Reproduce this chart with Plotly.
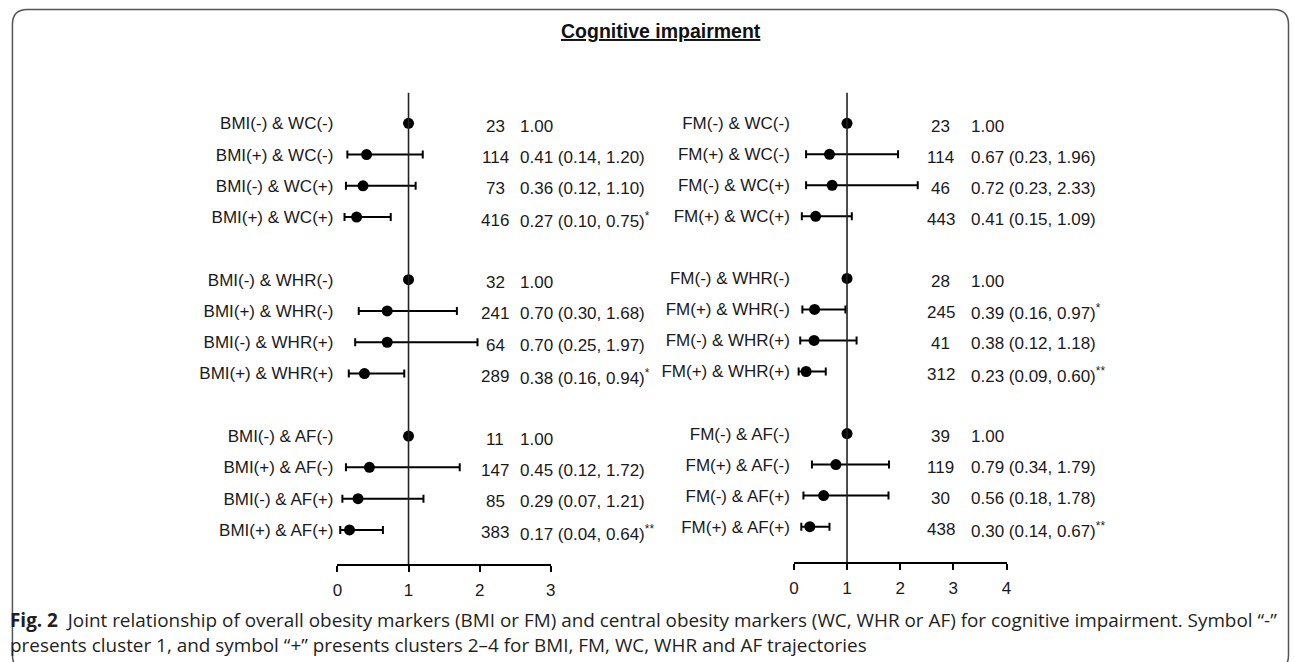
import plotly.graph_objects as go

W, H = 1295, 662

# ---------------- data ----------------
groups = ["WC", "WHR", "AF"]
combos = ["(-) & {g}(-)", "(+) & {g}(-)", "(-) & {g}(+)", "(+) & {g}(+)"]

left_marker = "BMI"
left_n = [23, 114, 73, 416, 32, 241, 64, 289, 11, 147, 85, 383]
left_or = [1.00, 0.41, 0.36, 0.27, 1.00, 0.70, 0.70, 0.38, 1.00, 0.45, 0.29, 0.17]
left_lo = [None, 0.14, 0.12, 0.10, None, 0.30, 0.25, 0.16, None, 0.12, 0.07, 0.04]
left_hi = [None, 1.20, 1.10, 0.75, None, 1.68, 1.97, 0.94, None, 1.72, 1.21, 0.64]
left_sig = ["", "", "", "*", "", "", "", "*", "", "", "", "**"]

right_marker = "FM"
right_n = [23, 114, 46, 443, 28, 245, 41, 312, 39, 119, 30, 438]
right_or = [1.00, 0.67, 0.72, 0.41, 1.00, 0.39, 0.38, 0.23, 1.00, 0.79, 0.56, 0.30]
right_lo = [None, 0.23, 0.23, 0.15, None, 0.16, 0.12, 0.09, None, 0.34, 0.18, 0.14]
right_hi = [None, 1.96, 2.33, 1.09, None, 0.97, 1.18, 0.60, None, 1.79, 1.78, 0.67]
right_sig = ["", "", "", "", "", "*", "", "**", "", "", "", "**"]

left_ticks = [0, 1, 2, 3]
right_ticks = [0, 1, 2, 3, 4]

title_text = "Cognitive impairment"
cap1 = ("Joint relationship of overall obesity markers (BMI or FM) and central obesity markers "
        "(WC, WHR or AF) for cognitive impairment. Symbol \u201c-\u201d")
cap2 = ("presents cluster 1, and symbol \u201c+\u201d presents clusters 2\u20134 for BMI, FM, WC, "
        "WHR and AF trajectories")

# ---------------- helpers ----------------
def px(x):
    return x / W

def py(y):
    return 1 - y / H

FONT = "Liberation Sans, Arial, sans-serif"
TXT = "#1a1a1a"
FS = 17

labels_left = [left_marker + c.format(g=g) for g in groups for c in combos]
labels_right = [right_marker + c.format(g=g) for g in groups for c in combos]
rows = [gi * (len(combos) + 1) + ci for gi in range(len(groups)) for ci in range(len(combos))]

fig = go.Figure()

def add_panel(xa, ya, n, orv, lo, hi, sig, n_x, or_x, hdr_n_x, hdr_or_x):
    idx_ci = [i for i in range(len(orv)) if lo[i] is not None]
    idx_ref = [i for i in range(len(orv)) if lo[i] is None]
    fig.add_trace(go.Scatter(
        x=[orv[i] for i in idx_ci], y=[rows[i] for i in idx_ci],
        xaxis=xa, yaxis=ya, mode="markers",
        marker=dict(color="black", size=11),
        error_x=dict(type="data", symmetric=False,
                     array=[hi[i] - orv[i] for i in idx_ci],
                     arrayminus=[orv[i] - lo[i] for i in idx_ci],
                     color="black", thickness=2, width=4),
        cliponaxis=False, showlegend=False, hoverinfo="skip"))
    fig.add_trace(go.Scatter(
        x=[orv[i] for i in idx_ref], y=[rows[i] for i in idx_ref],
        xaxis=xa, yaxis=ya, mode="markers",
        marker=dict(color="black", size=11),
        cliponaxis=False, showlegend=False, hoverinfo="skip"))
    yref = ya
    for i in range(len(orv)):
        fig.add_annotation(x=px(n_x), y=rows[i], xref="paper", yref=yref,
                           text=str(n[i]), showarrow=False, xanchor="center",
                           yanchor="middle", yshift=-3,
                           font=dict(family=FONT, size=FS, color=TXT))
        if lo[i] is None:
            t = f"{orv[i]:.2f}"
        else:
            t = f"{orv[i]:.2f} ({lo[i]:.2f}, {hi[i]:.2f})"
            if sig[i]:
                t += f"<sup>{sig[i]}</sup>"
        fig.add_annotation(x=px(or_x), y=rows[i], xref="paper", yref=yref,
                           text=t, showarrow=False, xanchor="left",
                           yanchor="middle", yshift=-3,
                           font=dict(family=FONT, size=FS, color=TXT))
    fig.add_annotation(x=px(hdr_n_x), y=-1, xref="paper", yref=yref,
                       text="<i>n</i>", showarrow=False, xanchor="center",
                       yanchor="middle", yshift=0,
                       font=dict(family=FONT, size=FS, color=TXT))
    fig.add_annotation(x=px(hdr_or_x), y=-1, xref="paper", yref=yref,
                       text="OR (95% CI)", showarrow=False, xanchor="left",
                       yanchor="middle", yshift=0,
                       font=dict(family=FONT, size=FS, color=TXT))

add_panel("x", "y", left_n, left_or, left_lo, left_hi, left_sig, 494, 517, 491, 516)
add_panel("x2", "y2", right_n, right_or, right_lo, right_hi, right_sig, 943, 971, 943, 973)

axis_common = dict(showgrid=False, zeroline=False, showline=True, linecolor="black",
                   linewidth=2, ticks="outside", ticklen=6, tickwidth=2, tickcolor="black",
                   tickfont=dict(family=FONT, size=FS, color=TXT), fixedrange=True,
                   ticklabelstandoff=4)
yaxis_common = dict(showgrid=False, zeroline=False, showline=False, ticks="",
                    tickfont=dict(family=FONT, size=FS, color=TXT), fixedrange=True,
                    tickvals=rows, ticklabelstandoff=3)

fig.update_layout(
    width=W, height=H, autosize=False,
    margin=dict(l=0, r=0, t=0, b=0),
    paper_bgcolor="white", plot_bgcolor="rgba(0,0,0,0)",
    xaxis=dict(domain=[px(335), px(550)], range=[0, 3], tickvals=left_ticks,
               anchor="y", **axis_common),
    yaxis=dict(domain=[py(564), py(92.7)], range=[14.09, -0.978], anchor="x",
               ticktext=labels_left, **yaxis_common),
    xaxis2=dict(domain=[px(795), px(1009.3)], range=[0, 4], tickvals=right_ticks,
                anchor="y2", **axis_common),
    yaxis2=dict(domain=[py(562), py(92.7)], range=[14.14, -0.986], anchor="x2",
                ticktext=labels_right, **yaxis_common),
)

# reference lines at OR = 1
fig.add_shape(type="line", xref="x", yref="y domain", x0=1, x1=1, y0=0, y1=1,
              line=dict(color="#222", width=1.6))
fig.add_shape(type="line", xref="x2", yref="y2 domain", x0=1, x1=1, y0=0, y1=1,
              line=dict(color="#222", width=1.6))

# rounded frame
L, T, R, B, r = 7.5, 9.5, 1293.5, 670, 15
rx, ry = r / W, r / H
path = (f"M {px(L)+rx},{py(T)} L {px(R)-rx},{py(T)} Q {px(R)},{py(T)} {px(R)},{py(T)-ry} "
        f"L {px(R)},{py(B)+ry} Q {px(R)},{py(B)} {px(R)-rx},{py(B)} "
        f"L {px(L)+rx},{py(B)} Q {px(L)},{py(B)} {px(L)},{py(B)+ry} "
        f"L {px(L)},{py(T)-ry} Q {px(L)},{py(T)} {px(L)+rx},{py(T)} Z")
fig.add_shape(type="path", xref="paper", yref="paper", path=path,
              line=dict(color="#555", width=1.5))

# title
fig.add_annotation(x=px(661), y=py(31), xref="paper", yref="paper",
                   text=f"<b><u>{title_text}</u></b>", showarrow=False,
                   xanchor="center", yanchor="middle",
                   font=dict(family=FONT, size=19.5, color="#111"))

# caption (two lines in one text block)
CAPF = "Open Sans, Noto Sans, sans-serif"
fig.add_annotation(x=px(3), y=py(632.5), xref="paper", yref="paper",
                   text="<b>Fig. 2</b>\u00a0\u00a0" + cap1 + "<br>" + cap2,
                   showarrow=False, align="left",
                   xanchor="left", yanchor="middle",
                   font=dict(family=CAPF, size=18.9, color="#231f20"))

fig.write_html("out.html", config={"displayModeBar": False},
               post_script="document.body.style.margin='0';document.body.style.overflow='hidden';")
